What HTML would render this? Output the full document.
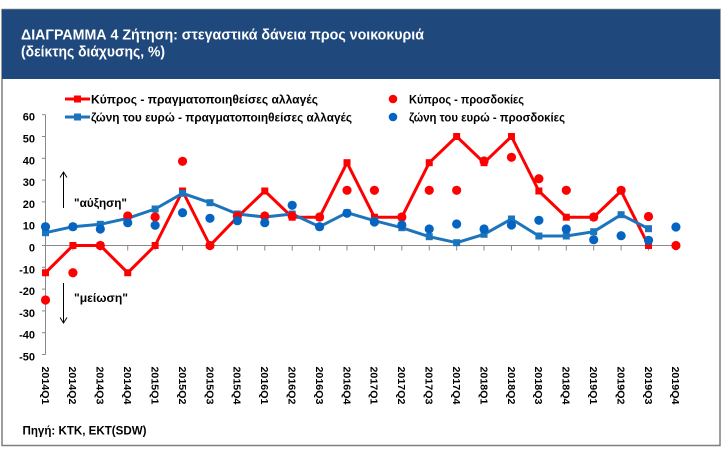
<!DOCTYPE html>
<html>
<head>
<meta charset="utf-8">
<style>
html,body{margin:0;padding:0;background:#ffffff;}
svg{display:block;}
text{font-family:"Liberation Sans","DejaVu Sans",sans-serif;}
</style>
</head>
<body>
<svg width="727" height="453" viewBox="0 0 727 453" xmlns="http://www.w3.org/2000/svg">
  <rect x="0" y="0" width="727" height="453" fill="#ffffff"/>
  <!-- frame -->
  <rect x="2" y="9.5" width="718" height="436" fill="#ffffff" stroke="#7f7f7f" stroke-width="1.5"/>
  <rect x="2" y="9.5" width="718" height="69.5" fill="#1f497d"/>
  <text x="21" y="39.5" font-size="14.5" font-weight="bold" fill="#ffffff" textLength="403" lengthAdjust="spacingAndGlyphs">ΔΙΑΓΡΑΜΜΑ 4 Ζήτηση: στεγαστικά δάνεια προς νοικοκυριά</text>
  <text x="21" y="56.5" font-size="14.5" font-weight="bold" fill="#ffffff" textLength="144" lengthAdjust="spacingAndGlyphs">(δείκτης διάχυσης, %)</text>

  <!-- legend -->
  <line x1="65" y1="99" x2="90" y2="99" stroke="#ff0000" stroke-width="3"/>
  <rect x="74" y="95.5" width="7" height="7" fill="#ff0000"/>
  <text x="91" y="103.5" font-size="12" font-weight="bold" fill="#000" textLength="227" lengthAdjust="spacingAndGlyphs">Κύπρος - πραγματοποιηθείσες αλλαγές</text>
  <line x1="65" y1="117" x2="90" y2="117" stroke="#1c75bc" stroke-width="3"/>
  <rect x="74" y="113.5" width="7" height="7" fill="#1c75bc"/>
  <text x="91" y="121.5" font-size="12" font-weight="bold" fill="#000" textLength="261" lengthAdjust="spacingAndGlyphs">ζώνη του ευρώ - πραγματοποιηθείσες αλλαγές</text>
  <circle cx="393" cy="99" r="4.3" fill="#ff0000"/>
  <text x="409" y="103.5" font-size="12" font-weight="bold" fill="#000" textLength="115" lengthAdjust="spacingAndGlyphs">Κύπρος - προσδοκίες</text>
  <circle cx="393" cy="117" r="4.3" fill="#0563c1"/>
  <text x="409" y="121.5" font-size="12" font-weight="bold" fill="#000" textLength="156" lengthAdjust="spacingAndGlyphs">ζώνη του ευρώ - προσδοκίες</text>

  <!-- y axis -->
  <g stroke="#898989" stroke-width="1">
    <line x1="45.5" y1="114.7" x2="45.5" y2="354.5"/>
    <line x1="42" y1="114.7" x2="45.5" y2="114.7"/>
    <line x1="42" y1="136.5" x2="45.5" y2="136.5"/>
    <line x1="42" y1="158.3" x2="45.5" y2="158.3"/>
    <line x1="42" y1="180.1" x2="45.5" y2="180.1"/>
    <line x1="42" y1="201.9" x2="45.5" y2="201.9"/>
    <line x1="42" y1="223.7" x2="45.5" y2="223.7"/>
    <line x1="42" y1="245.5" x2="45.5" y2="245.5"/>
    <line x1="42" y1="267.3" x2="45.5" y2="267.3"/>
    <line x1="42" y1="289.1" x2="45.5" y2="289.1"/>
    <line x1="42" y1="310.9" x2="45.5" y2="310.9"/>
    <line x1="42" y1="332.7" x2="45.5" y2="332.7"/>
    <line x1="42" y1="354.5" x2="45.5" y2="354.5"/>
  </g>
  <g font-size="11" font-weight="bold" fill="#000" text-anchor="end">
    <text x="35" y="120.7">60</text>
    <text x="35" y="142.5">50</text>
    <text x="35" y="164.3">40</text>
    <text x="35" y="186.1">30</text>
    <text x="35" y="207.9">20</text>
    <text x="35" y="229.7">10</text>
    <text x="35" y="251.5">0</text>
    <text x="35" y="273.3">-10</text>
    <text x="35" y="295.1">-20</text>
    <text x="35" y="316.9">-30</text>
    <text x="35" y="338.7">-40</text>
    <text x="35" y="360.5">-50</text>
  </g>

  <!-- x axis -->
  <g stroke="#898989" stroke-width="1">
    <line x1="45.5" y1="245.5" x2="675.9" y2="245.5"/>
    <line x1="72.91" y1="245.5" x2="72.91" y2="250.5"/>
    <line x1="100.32" y1="245.5" x2="100.32" y2="250.5"/>
    <line x1="127.73" y1="245.5" x2="127.73" y2="250.5"/>
    <line x1="155.14" y1="245.5" x2="155.14" y2="250.5"/>
    <line x1="182.55" y1="245.5" x2="182.55" y2="250.5"/>
    <line x1="209.96" y1="245.5" x2="209.96" y2="250.5"/>
    <line x1="237.37" y1="245.5" x2="237.37" y2="250.5"/>
    <line x1="264.78" y1="245.5" x2="264.78" y2="250.5"/>
    <line x1="292.19" y1="245.5" x2="292.19" y2="250.5"/>
    <line x1="319.6" y1="245.5" x2="319.6" y2="250.5"/>
    <line x1="347.01" y1="245.5" x2="347.01" y2="250.5"/>
    <line x1="374.42" y1="245.5" x2="374.42" y2="250.5"/>
    <line x1="401.83" y1="245.5" x2="401.83" y2="250.5"/>
    <line x1="429.24" y1="245.5" x2="429.24" y2="250.5"/>
    <line x1="456.65" y1="245.5" x2="456.65" y2="250.5"/>
    <line x1="484.06" y1="245.5" x2="484.06" y2="250.5"/>
    <line x1="511.47" y1="245.5" x2="511.47" y2="250.5"/>
    <line x1="538.88" y1="245.5" x2="538.88" y2="250.5"/>
    <line x1="566.29" y1="245.5" x2="566.29" y2="250.5"/>
    <line x1="593.7" y1="245.5" x2="593.7" y2="250.5"/>
    <line x1="621.11" y1="245.5" x2="621.11" y2="250.5"/>
    <line x1="648.52" y1="245.5" x2="648.52" y2="250.5"/>
    <line x1="675.93" y1="245.5" x2="675.93" y2="250.5"/>
  </g>

  <!-- x labels (rotated 90 cw) -->
  <g font-size="10.5" font-weight="bold" fill="#000">
    <text transform="translate(41.8,366.5) rotate(90)" textLength="38" lengthAdjust="spacingAndGlyphs">2014Q1</text>
    <text transform="translate(69.21,366.5) rotate(90)" textLength="38" lengthAdjust="spacingAndGlyphs">2014Q2</text>
    <text transform="translate(96.62,366.5) rotate(90)" textLength="38" lengthAdjust="spacingAndGlyphs">2014Q3</text>
    <text transform="translate(124.03,366.5) rotate(90)" textLength="38" lengthAdjust="spacingAndGlyphs">2014Q4</text>
    <text transform="translate(151.44,366.5) rotate(90)" textLength="38" lengthAdjust="spacingAndGlyphs">2015Q1</text>
    <text transform="translate(178.85,366.5) rotate(90)" textLength="38" lengthAdjust="spacingAndGlyphs">2015Q2</text>
    <text transform="translate(206.26,366.5) rotate(90)" textLength="38" lengthAdjust="spacingAndGlyphs">2015Q3</text>
    <text transform="translate(233.67,366.5) rotate(90)" textLength="38" lengthAdjust="spacingAndGlyphs">2015Q4</text>
    <text transform="translate(261.08,366.5) rotate(90)" textLength="38" lengthAdjust="spacingAndGlyphs">2016Q1</text>
    <text transform="translate(288.49,366.5) rotate(90)" textLength="38" lengthAdjust="spacingAndGlyphs">2016Q2</text>
    <text transform="translate(315.9,366.5) rotate(90)" textLength="38" lengthAdjust="spacingAndGlyphs">2016Q3</text>
    <text transform="translate(343.31,366.5) rotate(90)" textLength="38" lengthAdjust="spacingAndGlyphs">2016Q4</text>
    <text transform="translate(370.72,366.5) rotate(90)" textLength="38" lengthAdjust="spacingAndGlyphs">2017Q1</text>
    <text transform="translate(398.13,366.5) rotate(90)" textLength="38" lengthAdjust="spacingAndGlyphs">2017Q2</text>
    <text transform="translate(425.54,366.5) rotate(90)" textLength="38" lengthAdjust="spacingAndGlyphs">2017Q3</text>
    <text transform="translate(452.95,366.5) rotate(90)" textLength="38" lengthAdjust="spacingAndGlyphs">2017Q4</text>
    <text transform="translate(480.36,366.5) rotate(90)" textLength="38" lengthAdjust="spacingAndGlyphs">2018Q1</text>
    <text transform="translate(507.77,366.5) rotate(90)" textLength="38" lengthAdjust="spacingAndGlyphs">2018Q2</text>
    <text transform="translate(535.18,366.5) rotate(90)" textLength="38" lengthAdjust="spacingAndGlyphs">2018Q3</text>
    <text transform="translate(562.59,366.5) rotate(90)" textLength="38" lengthAdjust="spacingAndGlyphs">2018Q4</text>
    <text transform="translate(590,366.5) rotate(90)" textLength="38" lengthAdjust="spacingAndGlyphs">2019Q1</text>
    <text transform="translate(617.41,366.5) rotate(90)" textLength="38" lengthAdjust="spacingAndGlyphs">2019Q2</text>
    <text transform="translate(644.82,366.5) rotate(90)" textLength="38" lengthAdjust="spacingAndGlyphs">2019Q3</text>
    <text transform="translate(672.23,366.5) rotate(90)" textLength="38" lengthAdjust="spacingAndGlyphs">2019Q4</text>
  </g>

  <!-- arrows & annotations -->
  <g stroke="#000" stroke-width="1" fill="none">
    <line x1="63.5" y1="208" x2="63.5" y2="172.5"/>
    <polyline points="60,177.5 63.5,172 67,177.5"/>
    <line x1="63.5" y1="283" x2="63.5" y2="322.5"/>
    <polyline points="60,317.5 63.5,323 67,317.5"/>
  </g>
  <text x="74" y="207" font-size="12" font-weight="bold" fill="#000" textLength="53" lengthAdjust="spacingAndGlyphs">"αύξηση"</text>
  <text x="74" y="302" font-size="12" font-weight="bold" fill="#000" textLength="54" lengthAdjust="spacingAndGlyphs">"μείωση"</text>

  <!-- red line: Cyprus actual -->
  <polyline fill="none" stroke="#ff0000" stroke-width="3" stroke-linejoin="round"
    points="45.5,272.75 72.91,245.5 100.32,245.5 127.73,272.75 155.14,245.5 182.55,191 209.96,245.5 237.37,217.2 264.78,191 292.19,217.2 319.6,217.2 347.01,162.7 374.42,217.2 401.83,217.2 429.24,162.7 456.65,136.5 484.06,162.7 511.47,136.5 538.88,191 566.29,217.2 593.7,217.2 621.11,191 648.52,245.5"/>
  <g fill="#ff0000">
    <rect x="42" y="269.25" width="7" height="7"/>
    <rect x="69.41" y="242" width="7" height="7"/>
    <rect x="96.82" y="242" width="7" height="7"/>
    <rect x="124.23" y="269.25" width="7" height="7"/>
    <rect x="151.64" y="242" width="7" height="7"/>
    <rect x="179.05" y="187.5" width="7" height="7"/>
    <rect x="206.46" y="242" width="7" height="7"/>
    <rect x="233.87" y="213.7" width="7" height="7"/>
    <rect x="261.28" y="187.5" width="7" height="7"/>
    <rect x="288.69" y="213.7" width="7" height="7"/>
    <rect x="316.1" y="213.7" width="7" height="7"/>
    <rect x="343.51" y="159.2" width="7" height="7"/>
    <rect x="370.92" y="213.7" width="7" height="7"/>
    <rect x="398.33" y="213.7" width="7" height="7"/>
    <rect x="425.74" y="159.2" width="7" height="7"/>
    <rect x="453.15" y="133" width="7" height="7"/>
    <rect x="480.56" y="159.2" width="7" height="7"/>
    <rect x="507.97" y="133" width="7" height="7"/>
    <rect x="535.38" y="187.5" width="7" height="7"/>
    <rect x="562.79" y="213.7" width="7" height="7"/>
    <rect x="590.2" y="213.7" width="7" height="7"/>
    <rect x="617.61" y="187.5" width="7" height="7"/>
    <rect x="645.02" y="242" width="7" height="7"/>
  </g>

  <!-- blue line: euro area actual -->
  <polyline fill="none" stroke="#1c75bc" stroke-width="3" stroke-linejoin="round"
    points="45.5,232.7 72.91,226.7 100.32,224.3 127.73,218.3 155.14,209 182.55,193.3 209.96,202.7 237.37,214 264.78,217 292.19,214 319.6,226.7 347.01,212.7 374.42,220.7 401.83,227.7 429.24,236.7 456.65,242.7 484.06,234.3 511.47,219 538.88,236 566.29,236 593.7,231.7 621.11,214.7 648.52,228.7"/>
  <g fill="#1c75bc">
    <rect x="42" y="229.2" width="7" height="7"/>
    <rect x="69.41" y="223.2" width="7" height="7"/>
    <rect x="96.82" y="220.8" width="7" height="7"/>
    <rect x="124.23" y="214.8" width="7" height="7"/>
    <rect x="151.64" y="205.5" width="7" height="7"/>
    <rect x="179.05" y="189.8" width="7" height="7"/>
    <rect x="206.46" y="199.2" width="7" height="7"/>
    <rect x="233.87" y="210.5" width="7" height="7"/>
    <rect x="261.28" y="213.5" width="7" height="7"/>
    <rect x="288.69" y="210.5" width="7" height="7"/>
    <rect x="316.1" y="223.2" width="7" height="7"/>
    <rect x="343.51" y="209.2" width="7" height="7"/>
    <rect x="370.92" y="217.2" width="7" height="7"/>
    <rect x="398.33" y="224.2" width="7" height="7"/>
    <rect x="425.74" y="233.2" width="7" height="7"/>
    <rect x="453.15" y="239.2" width="7" height="7"/>
    <rect x="480.56" y="230.8" width="7" height="7"/>
    <rect x="507.97" y="215.5" width="7" height="7"/>
    <rect x="535.38" y="232.5" width="7" height="7"/>
    <rect x="562.79" y="232.5" width="7" height="7"/>
    <rect x="590.2" y="228.2" width="7" height="7"/>
    <rect x="617.61" y="211.2" width="7" height="7"/>
    <rect x="645.02" y="225.2" width="7" height="7"/>
  </g>

  <!-- red dots: Cyprus expectations -->
  <g fill="#ff0000">
    <circle cx="45.5" cy="300" r="4.6"/>
    <circle cx="72.91" cy="272.75" r="4.6"/>
    <circle cx="100.32" cy="245.5" r="4.6"/>
    <circle cx="127.73" cy="216" r="4.6"/>
    <circle cx="155.14" cy="217" r="4.6"/>
    <circle cx="182.55" cy="161.3" r="4.6"/>
    <circle cx="209.96" cy="245.5" r="4.6"/>
    <circle cx="237.37" cy="216" r="4.6"/>
    <circle cx="264.78" cy="216" r="4.6"/>
    <circle cx="292.19" cy="216" r="4.6"/>
    <circle cx="319.6" cy="217" r="4.6"/>
    <circle cx="347.01" cy="190.3" r="4.6"/>
    <circle cx="374.42" cy="190.3" r="4.6"/>
    <circle cx="401.83" cy="217" r="4.6"/>
    <circle cx="429.24" cy="190.3" r="4.6"/>
    <circle cx="456.65" cy="190.3" r="4.6"/>
    <circle cx="484.06" cy="161" r="4.6"/>
    <circle cx="511.47" cy="157.3" r="4.6"/>
    <circle cx="538.88" cy="178.7" r="4.6"/>
    <circle cx="566.29" cy="190.3" r="4.6"/>
    <circle cx="593.7" cy="217" r="4.6"/>
    <circle cx="621.11" cy="190.3" r="4.6"/>
    <circle cx="648.52" cy="216.5" r="4.6"/>
    <circle cx="675.93" cy="245.5" r="4.6"/>
  </g>

  <!-- blue dots: euro area expectations -->
  <g fill="#0563c1">
    <circle cx="45.5" cy="226.7" r="4.6"/>
    <circle cx="72.91" cy="226.7" r="4.6"/>
    <circle cx="100.32" cy="229" r="4.6"/>
    <circle cx="127.73" cy="222.7" r="4.6"/>
    <circle cx="155.14" cy="225.3" r="4.6"/>
    <circle cx="182.55" cy="212.7" r="4.6"/>
    <circle cx="209.96" cy="218.3" r="4.6"/>
    <circle cx="237.37" cy="220.7" r="4.6"/>
    <circle cx="264.78" cy="222.7" r="4.6"/>
    <circle cx="292.19" cy="205.3" r="4.6"/>
    <circle cx="319.6" cy="226.7" r="4.6"/>
    <circle cx="347.01" cy="213.3" r="4.6"/>
    <circle cx="374.42" cy="222" r="4.6"/>
    <circle cx="401.83" cy="225" r="4.6"/>
    <circle cx="429.24" cy="229" r="4.6"/>
    <circle cx="456.65" cy="224" r="4.6"/>
    <circle cx="484.06" cy="229" r="4.6"/>
    <circle cx="511.47" cy="225" r="4.6"/>
    <circle cx="538.88" cy="220.3" r="4.6"/>
    <circle cx="566.29" cy="229" r="4.6"/>
    <circle cx="593.7" cy="239.7" r="4.6"/>
    <circle cx="621.11" cy="235.7" r="4.6"/>
    <circle cx="648.52" cy="240.3" r="4.6"/>
    <circle cx="675.93" cy="227" r="4.6"/>
  </g>

  <!-- source -->
  <text x="22.5" y="434.5" font-size="12" font-weight="bold" fill="#000" textLength="124" lengthAdjust="spacingAndGlyphs">Πηγή: ΚΤΚ, ΕΚΤ(SDW)</text>
</svg>
</body>
</html>
